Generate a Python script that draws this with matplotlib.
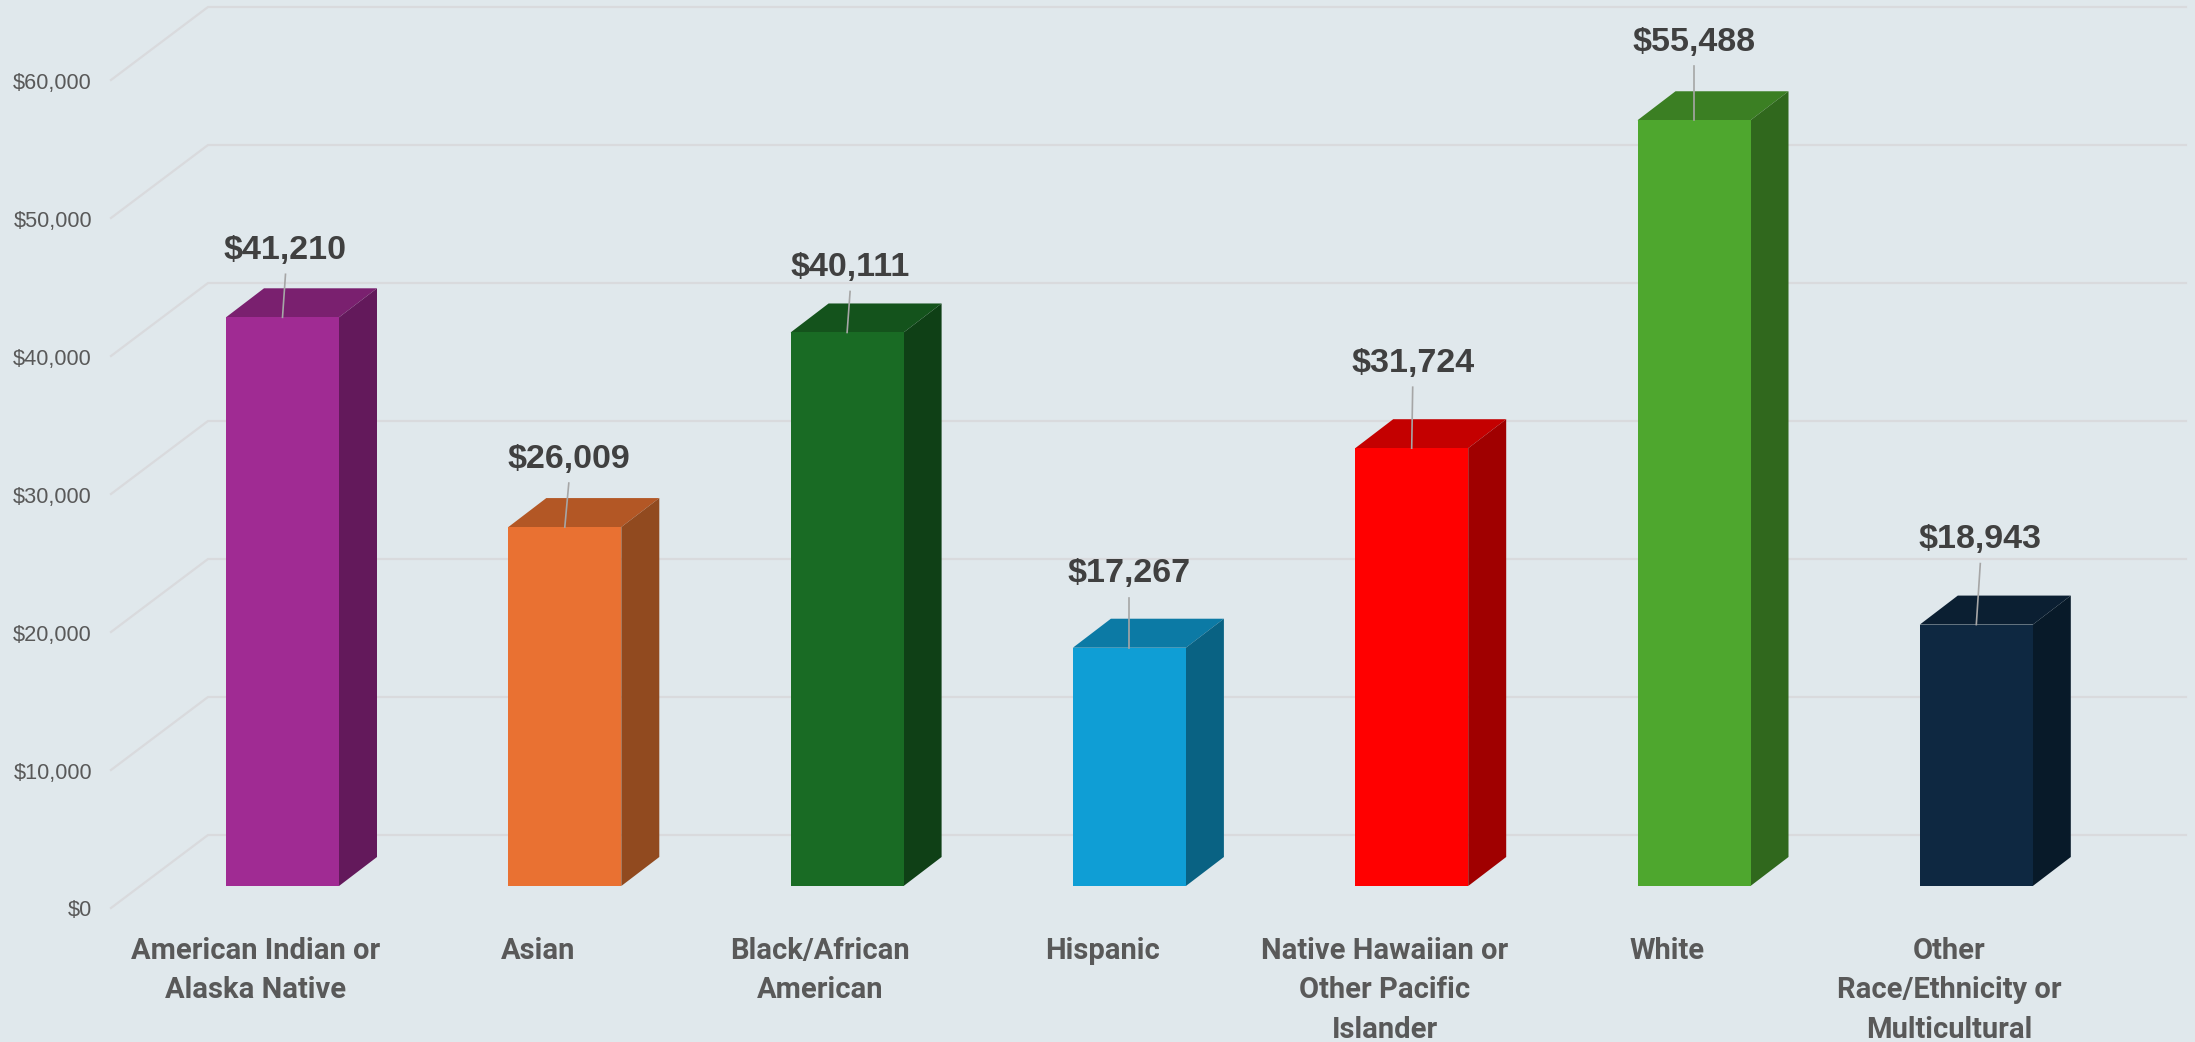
import matplotlib
matplotlib.use('Agg')
import matplotlib.pyplot as plt

categories = ['American Indian or\nAlaska Native', 'Asian', 'Black/African\nAmerican', 'Hispanic',
              'Native Hawaiian or\nOther Pacific\nIslander', 'White',
              'Other\nRace/Ethnicity or\nMulticultural']
values = [41210, 26009, 40111, 17267, 31724, 55488, 18943]
grid_values = [0, 10000, 20000, 30000, 40000, 50000, 60000]

front_colors = ['#A02B93', '#E97132', '#196B24', '#0F9ED5', '#FF0000', '#4EA72E', '#0E2841']
top_colors = ['#7A206F', '#B35725', '#14531C', '#0C7AA5', '#C40000', '#3B7F23', '#0B1F32']
side_colors = ['#63195B', '#914A1F', '#0F4016', '#096283', '#A00000', '#30681D', '#081A29']

# how far each label sits above its bar and sideways from the bar centre, in pixels
label_lift = [67, 68, 65, 74, 85, 78, 85]
label_shift = [3, 4, 3, 0, 1, 0, 4]

BG = '#E0E8EC'
GRID = '#D9DADD'

W, H = 2195, 1042
CAT_PX = 282.3   # pixels per category
VAL_PX = 138.0   # pixels per 10000
X0_PX = 282.5    # centre of first bar
Y0_PX = 886.0    # base of bars from the top of the image


def px_x(p):
    return p / CAT_PX


def px_y(p):
    return p * 10000 / VAL_PX


fig = plt.figure(figsize=(W / 100, H / 100), dpi=100, facecolor=BG)
ax = fig.add_axes([0, 0, 1, 1])
ax.set_xlim(-X0_PX / CAT_PX, (W - X0_PX) / CAT_PX)
ax.set_ylim(-px_y(H - Y0_PX), px_y(Y0_PX))
ax.axis('off')

# gridlines: front edge, slanted up to the back wall, then across
front_x = (111 - X0_PX) / CAT_PX
back_x = (208 - X0_PX) / CAT_PX
end_x = (2186 - X0_PX) / CAT_PX
for v in grid_values:
    ax.plot([front_x, back_x, end_x], [v - px_y(22), v + px_y(51), v + px_y(51)],
            color=GRID, lw=1.6, zorder=1, solid_joinstyle='miter')
    ax.text(front_x - px_x(19), v - px_y(26 if v else 24), '${:,}'.format(v), ha='right', va='center',
            fontsize=15.7, color='#595959', family='Liberation Sans')

bar_w = px_x(113)
dx = px_x(38)
dy = px_y(29)
for i, v in enumerate(values):
    left = i - bar_w / 2
    right = i + bar_w / 2
    ax.bar(i, v, width=bar_w, color=front_colors[i], zorder=3)
    ax.fill([left, right, right + dx, left + dx], [v, v, v + dy, v + dy], color=top_colors[i], zorder=2, lw=0)
    ax.fill([right, right + dx, right + dx, right], [0, dy, v + dy, v], color=side_colors[i], zorder=2, lw=0)

    lx = i + px_x(label_shift[i])
    ly = v + px_y(label_lift[i])
    ax.plot([i, lx], [v, ly - px_y(24)], color='#A6A6A6', lw=1.2, zorder=4)
    ax.text(lx, ly, '${:,}'.format(v), ha='center', va='center', fontsize=24.5, fontweight='bold',
            color='#404040', family='Liberation Sans')

    ax.text(i - px_x(27), -px_y(51), categories[i], ha='center', va='top', fontsize=21, fontweight='bold',
            color='#595959', family='Roboto', linespacing=1.52)

fig.savefig('out.png', dpi=100, facecolor=BG)
